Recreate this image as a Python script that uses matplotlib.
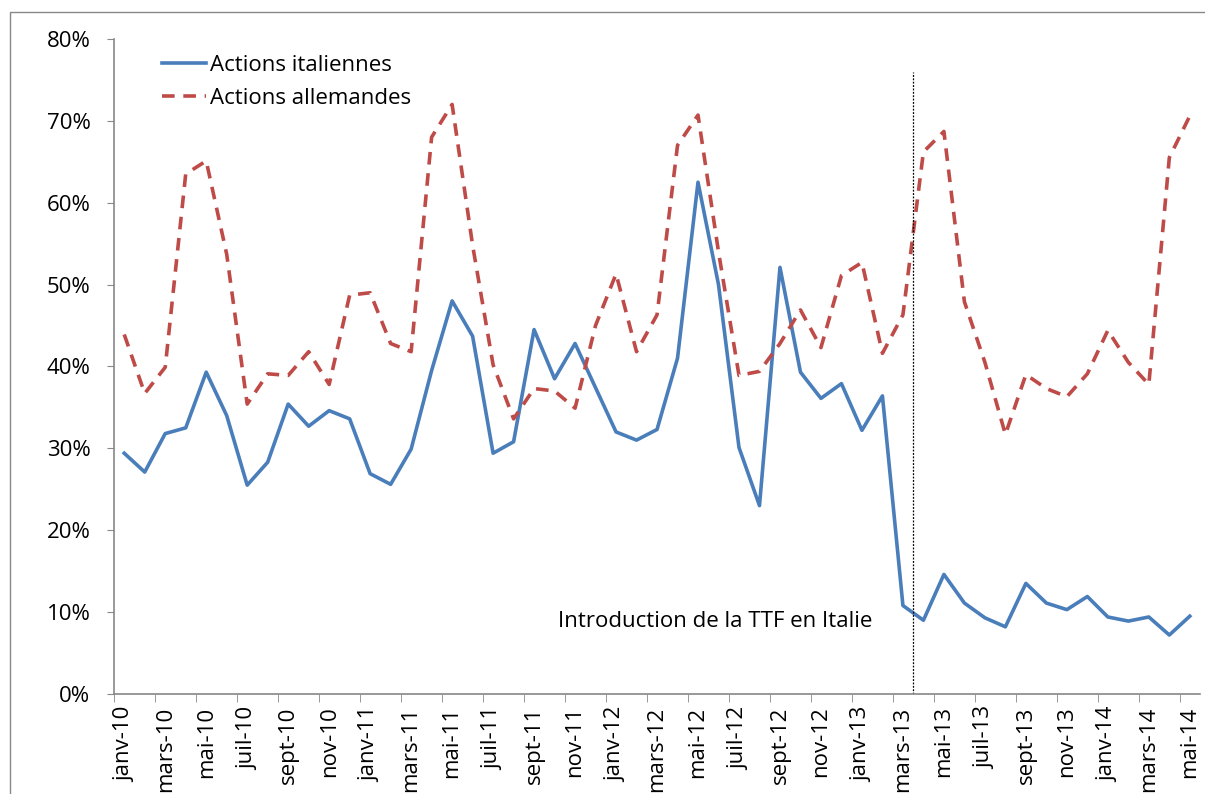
import numpy as np
import matplotlib.pyplot as plt

months = ['janv', 'févr', 'mars', 'avr', 'mai', 'juin', 'juil', 'août', 'sept', 'oct', 'nov', 'déc']
dates = [f'{months[i % 12]}-{10 + i // 12}' for i in range(53)]

italiennes = [29.4, 27.1, 31.8, 32.5, 39.3, 34.0, 25.5, 28.3, 35.4, 32.7, 34.6, 33.6,
              26.9, 25.6, 29.9, 39.5, 48.0, 43.7, 29.4, 30.8, 44.5, 38.5, 42.8, 37.4,
              32.0, 31.0, 32.3, 41.0, 62.5, 50.0, 30.1, 23.0, 52.1, 39.3, 36.1, 37.9,
              32.2, 36.4, 10.8, 9.0, 14.6, 11.1, 9.3, 8.2, 13.5, 11.1, 10.3, 11.9,
              9.4, 8.9, 9.4, 7.2, 9.5]
allemandes = [43.9, 36.7, 39.9, 63.5, 65.1, 53.7, 35.4, 39.1, 38.9, 41.8, 37.8, 48.7,
              49.0, 42.8, 41.8, 68.0, 72.0, 54.8, 40.2, 33.6, 37.3, 37.0, 34.9, 45.0,
              51.3, 41.8, 46.3, 67.0, 70.7, 54.0, 38.9, 39.4, 42.8, 46.9, 42.3, 51.1,
              52.7, 41.6, 46.3, 66.2, 68.7, 47.9, 40.5, 31.7, 39.0, 37.3, 36.3, 39.1,
              44.4, 40.5, 37.8, 65.5, 70.6]

ttf_position = 38.5
annotation = 'Introduction de la TTF en Italie'

plt.rcParams['font.family'] = ['Open Sans', 'DejaVu Sans']
fs = 16

fig = plt.figure(figsize=(12.05, 7.94), dpi=100)
ax = fig.add_axes([0.0946, 0.126, 0.9013, 0.825])

x = np.arange(len(dates))
ax.plot(x, italiennes, color='#4A7EBB', lw=2.6, label='Actions italiennes')
ax.plot(x, allemandes, color='#BE4B48', lw=2.6, dashes=(3.5, 2.4), label='Actions allemandes')
ax.plot([ttf_position, ttf_position], [0, 76], color='black', lw=0.9, ls=(0, (1.5, 1.2)))
ax.text(36.5, 8.9, annotation, ha='right', va='center', fontsize=fs)

ax.set_xlim(-0.5, 52.5)
ax.set_ylim(0, 80)
ax.set_yticks(range(0, 81, 10))
ax.set_yticklabels([f'{v}%' for v in range(0, 81, 10)], fontsize=fs)
ax.set_xticks(x[::2])
ax.set_xticklabels(dates[::2], rotation=90, fontsize=fs)
ax.set_xticks(np.arange(-0.5, 53, 2), minor=True)
ax.tick_params(axis='x', which='major', length=0, pad=9)
ax.tick_params(axis='x', which='minor', length=6, color='#888888', direction='out')
ax.tick_params(axis='y', length=5, color='#888888', direction='out', pad=12)

for s in ['top', 'right']:
    ax.spines[s].set_visible(False)
for s in ['left', 'bottom']:
    ax.spines[s].set_color('#888888')
    ax.spines[s].set_linewidth(1.2)

ax.legend(loc='upper left', bbox_to_anchor=(0.026, 1.006), frameon=False, fontsize=fs,
          handlelength=1.95, labelspacing=0.55, handletextpad=0.2)

fig.patches.append(plt.Rectangle((0.008, -0.1), 1.1, 1.085, transform=fig.transFigure,
                                 fill=False, edgecolor='#888888', lw=1))

fig.savefig('out.png')
